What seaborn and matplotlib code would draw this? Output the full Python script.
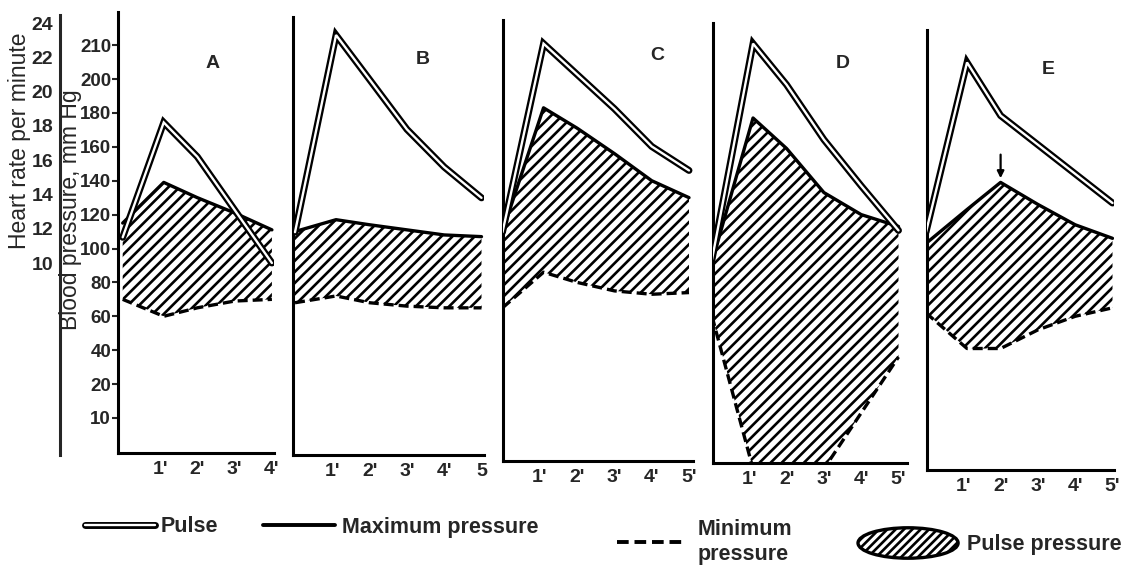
import matplotlib
matplotlib.use('Agg')
import matplotlib.pyplot as plt
import matplotlib.patches as mpatches
from matplotlib.lines import Line2D
from matplotlib.legend_handler import HandlerPatch, HandlerTuple
from matplotlib.font_manager import FontProperties
import pandas as pd
import seaborn as sns

# --- values ---
minutes = [0, 1.1, 2, 3, 4, 5]
panels = ['A', 'B', 'C', 'D', 'E']

pulse_A = [11.5, 18.2, 16.2, 13.1, 10.0]
maxp_A = [115, 139, 130, 121, 111]
minp_A = [70, 60, 65, 69, 70]

pulse_B = [11.8, 23.3, 20.7, 17.8, 15.6, 13.8]
maxp_B = [110, 117, 114, 111, 108, 107]
minp_B = [68, 72, 68, 66, 65, 65]

pulse_C = [11.8, 22.8, 21.0, 19.0, 16.8, 15.4]
maxp_C = [110, 183, 171, 156, 140, 130]
minp_C = [65, 86, 80, 75, 73, 74]

pulse_D = [10.2, 22.8, 20.4, 17.2, 14.5, 11.9]
maxp_D = [92, 177, 159, 133, 120, 113]
minp_D = [60, -30, -30, -30, 3, 36]

pulse_E = [11.8, 21.7, 18.6, 16.9, 15.2, 13.5]
maxp_E = [103, 123, 139, 126, 114, 106]
minp_E = [62, 41, 41, 52, 60, 65]

hr_ticks = [10, 12, 14, 16, 18, 20, 22, 24]
bp_ticks = [0, 20, 40, 60, 80, 100, 120, 140, 160, 180, 200, 220]
bp_labels = ['10', '20', '40', '60', '80', '100', '120', '140', '160', '180', '200', '210']
x_labels_A = ["1'", "2'", "3'", "4'"]
x_labels_B = ["1'", "2'", "3'", "4'", "5"]
x_labels_std = ["1'", "2'", "3'", "4'", "5'"]

series = {
    'A': (pulse_A, maxp_A, minp_A, x_labels_A),
    'B': (pulse_B, maxp_B, minp_B, x_labels_B),
    'C': (pulse_C, maxp_C, minp_C, x_labels_std),
    'D': (pulse_D, maxp_D, minp_D, x_labels_std),
    'E': (pulse_E, maxp_E, minp_E, x_labels_std),
}

# --- layout (pixels of the 1131x567 picture) ---
W, H = 1131, 567
boxes = {'A': (118, 274, 12, 453), 'B': (293, 484, 17, 455), 'C': (503, 693, 20, 461),
         'D': (713, 907, 23, 463), 'E': (927, 1114, 30, 470)}
zero_px = {'A': 122.7, 'B': 295, 'C': 502.5, 'D': 712, 'E': 926}
letter_pos = {'A': (213, 63), 'B': (423, 60), 'C': (657, 55), 'D': (843, 63), 'E': (1048, 70)}
PX_PER_MIN = 37.3
BP_ZERO_PX, BP_PX = 418, 1.695
HR_TEN_PX, HR_PX = 263, 17.14

sns.set_style('white')
plt.rcParams['font.family'] = ['Liberation Sans', 'DejaVu Sans']
plt.rcParams['hatch.linewidth'] = 1.9
num_font = ['Liberation Sans Narrow', 'Liberation Sans']


def fig_box(left, right, top, bottom):
    return [left / W, 1 - bottom / H, (right - left) / W, (bottom - top) / H]


fig = plt.figure(figsize=(11.31, 5.67), dpi=100)

for name in panels:
    pulse, maxp, minp, xlab = series[name]
    n = len(pulse)
    df = pd.DataFrame({'minute': minutes[:n], 'pulse': pulse, 'max': maxp, 'min': minp})
    left, right, top, bottom = boxes[name]

    ax = fig.add_axes(fig_box(left, right, top, bottom))
    ax.fill_between(df['minute'], df['min'], df['max'], facecolor='none',
                    edgecolor='black', hatch='///', linewidth=0)
    sns.lineplot(data=df, x='minute', y='max', color='black', lw=2.4, ax=ax)
    sns.lineplot(data=df, x='minute', y='min', color='black', lw=2.4,
                 linestyle=(0, (3, 1.5)), ax=ax)

    ax.set_xlim((left - zero_px[name]) / PX_PER_MIN, (right - zero_px[name]) / PX_PER_MIN)
    ax.set_ylim((BP_ZERO_PX - bottom) / BP_PX, (BP_ZERO_PX - top) / BP_PX)
    ax.set_xlabel('')
    ax.set_ylabel('')
    ax.set_xticks(range(1, n), xlab)
    for s in ['top', 'right']:
        ax.spines[s].set_visible(False)
    for s in ['left', 'bottom']:
        ax.spines[s].set_linewidth(2.2)
        ax.spines[s].set_color('black')
    ax.tick_params(axis='x', direction='out', length=3, width=1.8, pad=3, labelsize=14)
    if name == 'A':
        ax.set_yticks(bp_ticks, bp_labels)
        ax.tick_params(axis='y', direction='out', length=4, width=1.5, pad=1, labelsize=13.5)
    else:
        ax.set_yticks([])
    for lbl in ax.get_xticklabels() + ax.get_yticklabels():
        lbl.set_family(num_font)
        lbl.set_fontweight('bold')

    # pulse (heart rate) on its own scale, drawn as a double line
    hr = ax.twinx()
    sns.lineplot(data=df, x='minute', y='pulse', color='black', lw=5.0,
                 solid_joinstyle='miter', ax=hr)
    sns.lineplot(data=df, x='minute', y='pulse', color='white', lw=1.7,
                 solid_joinstyle='miter', ax=hr)
    hr.set_ylim(10 - (bottom - HR_TEN_PX) / HR_PX, 10 + (HR_TEN_PX - top) / HR_PX)
    hr.axis('off')

    lx, ly = letter_pos[name]
    fig.text(lx / W, 1 - ly / H, name, ha='center', va='center', fontsize=14, fontweight='bold')

    if name == 'E':
        ax.annotate('', xy=(2, maxp_E[2]), xytext=(0, 20), textcoords='offset points',
                    arrowprops=dict(arrowstyle='-|>', color='black', lw=1.6,
                                    shrinkA=0, shrinkB=3, mutation_scale=10))

# heart-rate scale at the far left
hr_scale = fig.add_axes(fig_box(60, 61, 15, 455))
hr_scale.patch.set_visible(False)
for s in ['top', 'right', 'bottom']:
    hr_scale.spines[s].set_visible(False)
hr_scale.spines['left'].set_linewidth(2.2)
hr_scale.set_ylim(10 - (455 - HR_TEN_PX) / HR_PX, 10 + (HR_TEN_PX - 15) / HR_PX)
hr_scale.set_xticks([])
hr_scale.set_yticks(hr_ticks)
hr_scale.tick_params(axis='y', direction='out', length=4, width=1.5, pad=1, labelsize=14)
for lbl in hr_scale.get_yticklabels():
    lbl.set_family(num_font)
    lbl.set_fontweight('bold')

fig.text(20 / W, 1 - 141 / H, 'Heart rate per minute', rotation=90,
         ha='center', va='center', fontsize=16.5)
fig.text(70 / W, 1 - 210 / H, 'Blood pressure, mm Hg', rotation=90,
         ha='center', va='center', fontsize=16.5)

# --- legend, four separate entries along the bottom ---
leg_font = FontProperties(family=['Liberation Sans', 'DejaVu Sans'], weight='bold', size=15.5)


def ellipse_patch(legend, orig_handle, xdescent, ydescent, width, height, fontsize):
    return mpatches.Ellipse(xy=(width / 2 - xdescent, height / 2 - ydescent),
                            width=width, height=height)


pulse_handle = (Line2D([], [], color='black', lw=5.0), Line2D([], [], color='white', lw=1.7))
max_handle = Line2D([], [], color='black', lw=2.8)
min_handle = Line2D([], [], color='black', lw=2.8, linestyle=(0, (3, 1.5)))
pp_handle = mpatches.Patch(facecolor='white', edgecolor='black', hatch='////', linewidth=2.4)

entries = [
    (pulse_handle, 'Pulse', 85, 527, 3.25, 0.7, 0.25),
    (max_handle, 'Maximum pressure', 263, 527, 3.35, 0.7, 0.33),
    (min_handle, 'Minimum\npressure', 617, 542, 3.0, 0.7, 0.75),
    (pp_handle, 'Pulse pressure', 858, 543, 4.65, 1.8, 0.42),
]
for handle, text, x, y, hlen, hhei, pad in entries:
    fig.legend([handle], [text], loc='center left', bbox_to_anchor=(x / W, 1 - y / H),
               frameon=False, borderpad=0, borderaxespad=0, prop=leg_font,
               handlelength=hlen, handleheight=hhei, handletextpad=pad,
               handler_map={tuple: HandlerTuple(ndivide=1),
                            mpatches.Patch: HandlerPatch(patch_func=ellipse_patch)})

fig.savefig('out.png', dpi=100)
